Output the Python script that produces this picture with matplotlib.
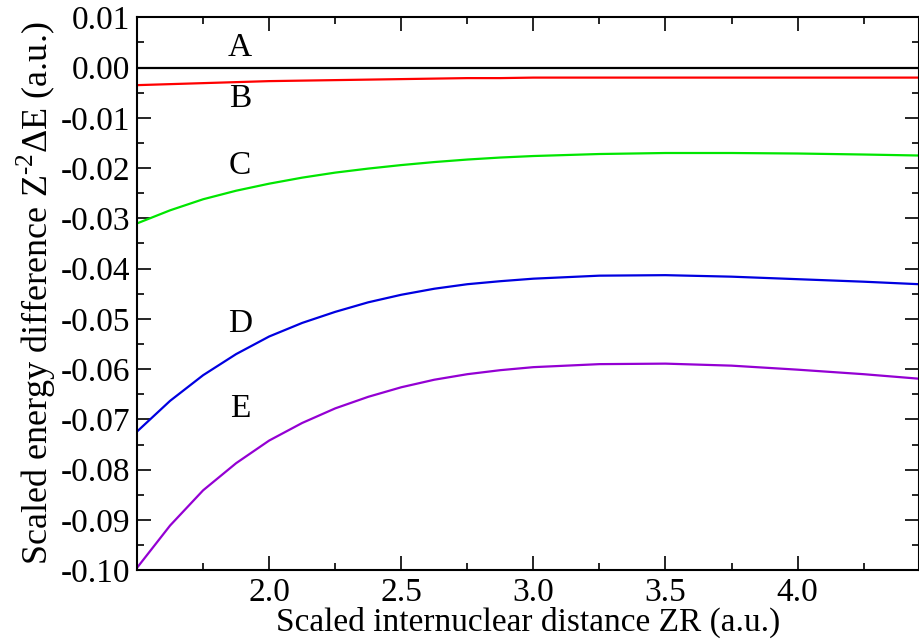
import matplotlib
matplotlib.use("Agg")
import matplotlib.pyplot as plt
from matplotlib.ticker import MultipleLocator

# Scaled internuclear distance ZR (a.u.)
zr = [1.5, 1.625, 1.75, 1.875, 2.0, 2.125, 2.25, 2.375, 2.5, 2.625, 2.75, 2.875,
      3.0, 3.25, 3.5, 3.75, 4.0, 4.25, 4.46]

# Scaled energy differences Z^-2 dE (a.u.)
curve_a = [0.0] * len(zr)
curve_b = [-0.0035, -0.0033, -0.0031, -0.0029, -0.0027, -0.0026, -0.0025, -0.0024,
           -0.0023, -0.0022, -0.0021, -0.0021, -0.0020, -0.0020, -0.0020, -0.0020,
           -0.0020, -0.0020, -0.0020]
curve_c = [-0.0310, -0.0284, -0.0262, -0.0245, -0.0231, -0.0219, -0.0209, -0.0201,
           -0.0194, -0.0188, -0.0183, -0.0179, -0.0176, -0.0172, -0.0170, -0.0170,
           -0.0171, -0.0173, -0.0175]
curve_d = [-0.0724, -0.0663, -0.0612, -0.0570, -0.0535, -0.0508, -0.0486, -0.0467,
           -0.0452, -0.0440, -0.0431, -0.0425, -0.0420, -0.0414, -0.0413, -0.0416,
           -0.0421, -0.0426, -0.0431]
curve_e = [-0.0995, -0.0911, -0.0841, -0.0787, -0.0742, -0.0707, -0.0678, -0.0655,
           -0.0636, -0.0621, -0.0610, -0.0602, -0.0596, -0.0590, -0.0589, -0.0593,
           -0.0601, -0.0610, -0.0619]

labels = ["A", "B", "C", "D", "E"]
label_y = [0.0040, -0.0062, -0.0195, -0.0509, -0.0678]

plt.rcParams['font.family'] = ['Liberation Serif', 'DejaVu Serif']
plt.rcParams['mathtext.fontset'] = 'custom'
plt.rcParams['mathtext.rm'] = 'Liberation Serif'

fig = plt.figure(figsize=(9.2, 6.4), dpi=100)
ax = fig.add_axes([0.149, 0.109, 0.850, 0.864])

colors = ['#000000', '#ff0000', '#00e600', '#0000e0', '#9400d3']
for ys, c in zip([curve_a, curve_b, curve_c, curve_d, curve_e], colors):
    ax.plot(zr, ys, color=c, linewidth=1.6)

for lab, ly in zip(labels, label_y):
    ax.text(1.89, ly, lab, fontsize=24, ha='center', va='center')

ax.set_xlim(1.5, 4.46)
ax.set_ylim(-0.10, 0.01)
ax.xaxis.set_minor_locator(MultipleLocator(0.25))
ax.yaxis.set_minor_locator(MultipleLocator(0.005))
ax.set_xticks([2.0, 2.5, 3.0, 3.5, 4.0])
ax.set_xticklabels(['2.0', '2.5', '3.0', '3.5', '4.0'])
yt = [0.01 - 0.01 * i for i in range(12)]
ax.set_yticks(yt)
ax.set_yticklabels(['%.2f' % v if abs(v) > 1e-9 else '0.00' for v in yt])

ax.tick_params(which='both', direction='in', top=True, right=True, labelsize=24, width=1.2)
ax.tick_params(which='major', length=10, pad=5)
ax.tick_params(which='minor', length=5)
for s in ax.spines.values():
    s.set_linewidth(1.5)

ax.set_xlabel('Scaled internuclear distance ZR (a.u.)', fontsize=24, labelpad=-1)
ax.set_ylabel(r'Scaled energy difference Z$^{\text{-2}}$$\Delta$E (a.u.)', fontsize=26, labelpad=2)

plt.savefig('out.png', dpi=100)
plt.close()
